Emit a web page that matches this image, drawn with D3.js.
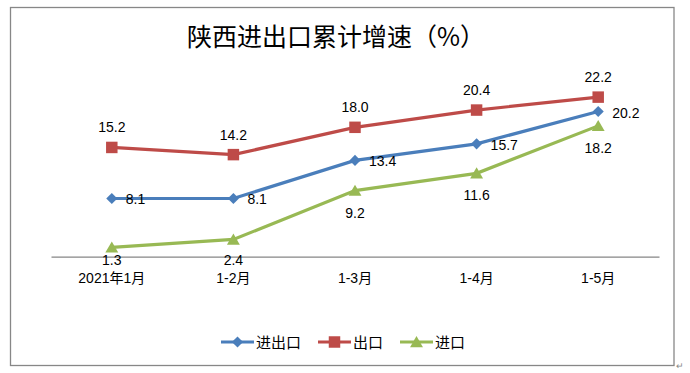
<!DOCTYPE html>
<html>
<head>
<meta charset="utf-8">
<script src="https://cdn.jsdelivr.net/npm/d3@7"></script>
<style>
  body { margin:0; background:#fff; }
  text { font-family:"Liberation Sans","Noto Sans CJK SC",sans-serif; fill:#000; }
</style>
</head>
<body>
<div id="canvas" class="canvas" style="width:690px;height:373px;"></div>
<script>
// data
var months = ["2021年1月","1-2月","1-3月","1-4月","1-5月"];
var seriesNames = ["进出口","出口","进口"];
var totalVals = [8.1, 8.1, 13.4, 15.7, 20.2];
var exportVals = [15.2, 14.2, 18.0, 20.4, 22.2];
var importVals = [1.3, 2.4, 9.2, 11.6, 18.2];

var W = 690, H = 373;
var svg = d3.select('.canvas').append('svg')
    .attr('width', W).attr('height', H);

// outer frame
svg.append('rect')
    .attr('x', 10.5).attr('y', 7.5)
    .attr('width', 663.5).attr('height', 358)
    .attr('fill', 'none').attr('stroke', '#878787').attr('stroke-width', 1.3);

svg.append('text')
    .attr('x', 336).attr('y', 46)
    .attr('text-anchor', 'middle')
    .style('font-family', '"Noto Sans CJK SC",sans-serif')
    .style('font-size', '25px')
    .text('陕西进出口累计增速（%）');

var x = d3.scaleBand().domain(months).range([51, 659]);
var y = d3.scaleLinear().domain([0, 25]).range([256.7, 77]);

// category axis
var xAxis = svg.append('g')
    .attr('transform', 'translate(0,256.7)')
    .call(d3.axisBottom(x).tickSize(0).tickPadding(16));
xAxis.select('.domain').attr('stroke', '#868686').attr('stroke-width', 1.2);
xAxis.selectAll('text')
    .style('font-size', '14px')
    .style('font-family', '"Liberation Sans","Noto Sans CJK SC",sans-serif');

// marker shapes: diamond = square turned 45 degrees
var series = [
    {name: seriesNames[0], vals: totalVals, color: '#4a7ebb', shape: d3.symbolSquare, size: 62, rot: 45, dy: 0, label: 'right'},
    {name: seriesNames[1], vals: exportVals, color: '#be4b48', shape: d3.symbolSquare, size: 132, rot: 0, dy: 0, label: 'above'},
    {name: seriesNames[2], vals: importVals, color: '#98b954', shape: d3.symbolTriangle, size: 72, rot: 0, dy: 1.5, label: 'below'}
];

var line = d3.line()
    .x(function(d, i){ return x(months[i]) + x.bandwidth()/2; })
    .y(function(d){ return y(d); });

// draw in order so blue ends on top like the reference
[2, 1, 0].forEach(function(k){
    var s = series[k];
    var g = svg.append('g');
    g.append('path')
        .attr('d', line(s.vals))
        .attr('fill', 'none')
        .attr('stroke', s.color)
        .attr('stroke-width', 3.2);
    g.selectAll('path.pt')
        .data(s.vals)
        .enter()
        .append('path')
        .attr('class', 'pt')
        .attr('d', d3.symbol().type(s.shape).size(s.size))
        .attr('transform', function(d, i){
            return 'translate(' + (x(months[i]) + x.bandwidth()/2) + ',' + (y(d) + s.dy) + ') rotate(' + s.rot + ')';
        })
        .attr('fill', s.color);
});

// value labels
series.forEach(function(s){
    svg.append('g').selectAll('text')
        .data(s.vals)
        .enter()
        .append('text')
        .style('font-size', '14px')
        .attr('text-anchor', s.label === 'right' ? 'start' : 'middle')
        .attr('x', function(d, i){
            var cx = x(months[i]) + x.bandwidth()/2;
            return s.label === 'right' ? cx + 14 : cx;
        })
        .attr('y', function(d){
            var py = y(d);
            if (s.label === 'above') return py - 15;
            if (s.label === 'below') return Math.min(py + 27, 265);
            return py + 6;
        })
        .text(function(d){ return d.toFixed(1); });
});

// legend
var legendX = [221, 318, 400];
var legend = svg.append('g');
series.forEach(function(s, i){
    var lg = legend.append('g').attr('transform', 'translate(' + legendX[i] + ',342)');
    lg.append('line')
        .attr('x1', 0).attr('x2', 33)
        .attr('stroke', s.color).attr('stroke-width', 3.2);
    lg.append('path')
        .attr('d', d3.symbol().type(s.shape).size(s.size))
        .attr('transform', 'translate(16.5,' + s.dy + ') rotate(' + s.rot + ')')
        .attr('fill', s.color);
    lg.append('text')
        .attr('x', 35).attr('y', 6)
        .style('font-size', '15px')
        .style('font-family', '"Noto Sans CJK SC",sans-serif')
        .text(s.name);
});

// little paragraph mark at the lower right corner
svg.append('text')
    .attr('x', 676).attr('y', 369)
    .style('font-size', '9px')
    .style('fill', '#888')
    .text('↵');
</script>
</body>
</html>
